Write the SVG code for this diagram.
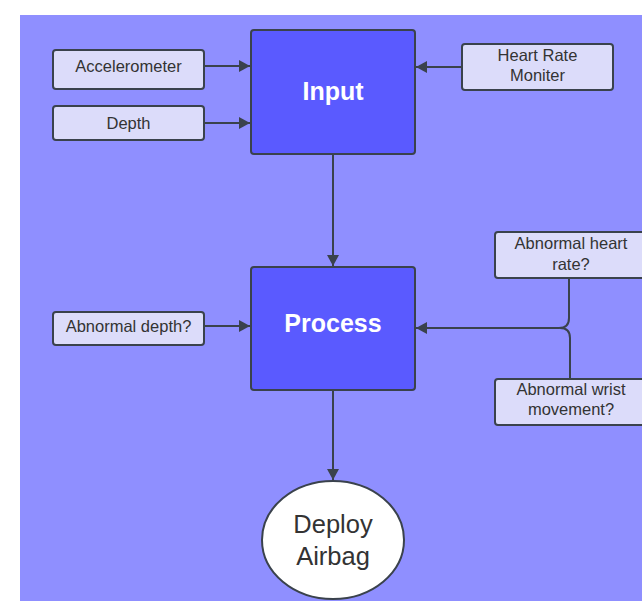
<svg xmlns="http://www.w3.org/2000/svg" width="642" height="601" viewBox="0 0 642 601">
<defs>
<marker id="ah" markerWidth="12" markerHeight="13" refX="11" refY="6" orient="auto" markerUnits="userSpaceOnUse">
<path d="M0,0 L11,6 L0,12 Z" fill="#3a424c"/>
</marker>
<style>
.sm{fill:#dcdcfa;stroke:#3a424c;stroke-width:2}
.big{fill:#5a5aff;stroke:#3a424c;stroke-width:2}
.st{font-family:"Liberation Sans",Arial,sans-serif;font-size:16.5px;fill:#333;text-anchor:middle}
.bt{font-family:"Liberation Sans",Arial,sans-serif;font-size:25px;font-weight:bold;fill:#fff;text-anchor:middle}
.ct{fill:none;stroke:#3a424c;stroke-width:2}
.dt{font-family:"Liberation Sans",Arial,sans-serif;font-size:25.5px;fill:#333;text-anchor:middle}
</style>
</defs>
<rect x="0" y="0" width="642" height="601" fill="#fff"/>
<rect x="20" y="15" width="622" height="586" fill="#8f8fff"/>
<g id="connectors">
<path class="ct" d="M204,66 H250" marker-end="url(#ah)"/>
<path class="ct" d="M204,123 H250" marker-end="url(#ah)"/>
<path class="ct" d="M462,67 H416" marker-end="url(#ah)"/>
<path class="ct" d="M333,154 V266" marker-end="url(#ah)"/>
<path class="ct" d="M204,326 H250" marker-end="url(#ah)"/>
<path class="ct" d="M569,278 V318 Q569,328 559,328 H416" marker-end="url(#ah)"/>
<path class="ct" d="M570,379 V338 Q570,328 560,328"/>
<path class="ct" d="M333,390 V480" marker-end="url(#ah)"/>
</g>
<g id="accelerometer"><rect class="sm" x="53" y="50" width="151" height="39" rx="3"/><text class="st" x="128.5" y="72">Accelerometer</text></g>
<g id="depth"><rect class="sm" x="53" y="106" width="151" height="34" rx="3"/><text class="st" x="128.5" y="129">Depth</text></g>
<g id="input"><rect class="big" x="251" y="30" width="164" height="124" rx="3"/><text class="bt" x="333" y="100">Input</text></g>
<g id="heart-rate-moniter"><rect class="sm" x="462" y="44" width="151" height="46" rx="3"/><text class="st" x="537.5" y="61">Heart Rate</text><text class="st" x="537.5" y="81">Moniter</text></g>
<g id="process"><rect class="big" x="251" y="267" width="164" height="123" rx="3"/><text class="bt" x="333" y="332">Process</text></g>
<g id="abnormal-depth"><rect class="sm" x="53" y="312" width="151" height="33" rx="3"/><text class="st" x="128.5" y="332">Abnormal depth?</text></g>
<g id="abnormal-heart-rate"><rect class="sm" x="495" y="232" width="152" height="46" rx="3"/><text class="st" x="571" y="249">Abnormal heart</text><text class="st" x="571" y="270">rate?</text></g>
<g id="abnormal-wrist-movement"><rect class="sm" x="495" y="379" width="152" height="46" rx="3"/><text class="st" x="571" y="395">Abnormal wrist</text><text class="st" x="571" y="415">movement?</text></g>
<g id="deploy-airbag"><ellipse cx="333" cy="540" rx="71" ry="59" fill="#fff" stroke="#3a424c" stroke-width="2"/><text class="dt" x="333" y="533">Deploy</text><text class="dt" x="333" y="565">Airbag</text></g>
</svg>
